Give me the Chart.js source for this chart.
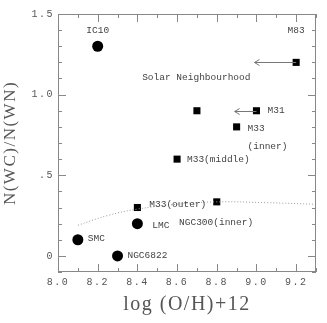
<!DOCTYPE html>
<html>
<head>
<meta charset="utf-8">
<script src="https://cdn.jsdelivr.net/npm/chart.js@4.4.1/dist/chart.umd.min.js"></script>
<style>
  body { margin: 0; background: #fff; }
  #wrap { width: 327px; height: 323px; }
</style>
</head>
<body>
<div id="wrap"><canvas id="wrChart" width="327" height="323"></canvas></div>
<script>
// galaxies plotted as filled circles
const circleNames = ["IC10", "SMC", "NGC6822", "LMC"];
const circleX = [8.2, 8.1, 8.3, 8.4];
const circleY = [1.3, 0.1, 0.0, 0.2];

// galaxies / regions plotted as filled squares
const squareNames = ["M83", "M31", "Solar Neighbourhood", "M33(inner)", "M33(middle)", "M33(outer)", "NGC300(inner)"];
const squareX = [9.2, 9.0, 8.7, 8.9, 8.6, 8.4, 8.8];
const squareY = [1.2, 0.9, 0.9, 0.8, 0.6, 0.3, 0.335];

// upper-limit arrows (pointing to lower metallicity)
const arrowFromX = [9.2, 9.0];
const arrowToX = [8.99, 8.89];
const arrowY = [1.2, 0.9];

// dotted model curve
const curveX = [8.1, 8.25, 8.4, 8.6, 8.8, 9.05, 9.3];
const curveY = [0.19, 0.25, 0.29, 0.32, 0.335, 0.33, 0.32];

// text labels next to points (data coords of the text anchor)
const labelText = ["IC10", "M83", "Solar Neighbourhood", "M31", "M33", "(inner)", "M33(middle)", "M33(outer)", "NGC300(inner)", "LMC", "SMC", "NGC6822"];
const labelX = [8.2, 9.2, 8.424, 9.056, 8.955, 8.955, 8.65, 8.46, 8.61, 8.475, 8.15, 8.35];
const labelY = [1.40, 1.40, 1.105, 0.9, 0.79, 0.68, 0.60, 0.32, 0.205, 0.19, 0.105, 0.0];

// axis tick labels
const xTickValues = [8.0, 8.2, 8.4, 8.6, 8.8, 9.0, 9.2];
const xTickLabels = ["8.0", "8.2", "8.4", "8.6", "8.8", "9.0", "9.2"];
const yTickValues = [0, 0.5, 1.0, 1.5];
const yTickLabels = ["0", ".5", "1.0", "1.5"];

const toPoints = (xs, ys) => xs.map((x, i) => ({ x: x, y: ys[i] }));

const framePlugin = {
  id: "frame",
  beforeDraw(chart) {
    chart.ctx.letterSpacing = "1.5px";
  },
  afterDraw(chart) {
    const ctx = chart.ctx;
    const xs = chart.scales.x;
    const ys = chart.scales.y;
    const a = chart.chartArea;
    ctx.save();
    ctx.letterSpacing = "0px";
    ctx.strokeStyle = "#888";
    ctx.lineWidth = 1;
    ctx.strokeRect(a.left + 0.5, a.top + 0.5, a.right - a.left - 1, a.bottom - a.top - 1);

    // inward ticks on all four sides
    ctx.beginPath();
    for (let i = 0; i <= 13; i++) {
      const v = 8.0 + i * 0.1;
      const px = Math.round(xs.getPixelForValue(v)) + 0.5;
      const len = i % 2 === 0 ? 8 : 4;
      ctx.moveTo(px, a.bottom); ctx.lineTo(px, a.bottom - len);
      ctx.moveTo(px, a.top); ctx.lineTo(px, a.top + len);
    }
    for (let i = -1; i <= 15; i++) {
      const v = i * 0.1;
      const py = Math.round(ys.getPixelForValue(v)) + 0.5;
      const len = i % 5 === 0 ? 8 : 4;
      ctx.moveTo(a.left, py); ctx.lineTo(a.left + len, py);
      ctx.moveTo(a.right, py); ctx.lineTo(a.right - len, py);
    }
    ctx.stroke();

    // arrows
    ctx.strokeStyle = "#777";
    ctx.beginPath();
    for (let i = 0; i < arrowY.length; i++) {
      const x0 = xs.getPixelForValue(arrowFromX[i]);
      const x1 = xs.getPixelForValue(arrowToX[i]);
      const y = Math.round(ys.getPixelForValue(arrowY[i])) + 0.5;
      ctx.moveTo(x0, y); ctx.lineTo(x1, y);
      ctx.moveTo(x1 + 5, y - 3); ctx.lineTo(x1, y); ctx.lineTo(x1 + 5, y + 3);
    }
    ctx.stroke();

    // point labels
    ctx.fillStyle = "#444";
    ctx.font = "9.5px 'Liberation Mono'";
    ctx.textBaseline = "middle";
    for (let i = 0; i < labelText.length; i++) {
      const centered = labelText[i] === "IC10" || labelText[i] === "M83";
      ctx.textAlign = centered ? "center" : "left";
      ctx.fillText(labelText[i], xs.getPixelForValue(labelX[i]), ys.getPixelForValue(labelY[i]));
    }
    ctx.restore();
  }
};

new Chart(document.getElementById("wrChart"), {
  type: "scatter",
  data: {
    datasets: [
      {
        type: "line",
        data: toPoints(curveX, curveY),
        borderColor: "#999",
        borderWidth: 1,
        borderDash: [1, 2],
        pointRadius: 0,
        tension: 0.4,
        fill: false,
      },
      {
        label: "circles",
        data: toPoints(circleX, circleY),
        pointStyle: "circle",
        pointRadius: 5.5,
        backgroundColor: "#000",
        borderColor: "#000",
        borderWidth: 0,
      },
      {
        label: "squares",
        data: toPoints(squareX, squareY),
        pointStyle: "rect",
        pointRadius: 5,
        backgroundColor: "#000",
        borderColor: "#000",
        borderWidth: 0,
      },
    ],
  },
  options: {
    responsive: false,
    animation: false,
    layout: { padding: { top: 14, right: 11, left: 0, bottom: 0 } },
    plugins: { legend: { display: false }, tooltip: { enabled: false } },
    scales: {
      x: {
        type: "linear",
        min: 8.0,
        max: 9.3,
        grid: { display: false, drawTicks: false },
        border: { display: false },
        afterBuildTicks: (s) => { s.ticks = xTickValues.map((v) => ({ value: v })); },
        afterFit: (s) => { s.height = 51; },
        ticks: {
          color: "#555",
          padding: 4,
          maxRotation: 0,
          font: { family: "Liberation Mono", size: 10 },
          callback: (v) => xTickLabels[xTickValues.indexOf(Math.round(v * 10) / 10)],
        },
        title: {
          display: true,
          text: "log (O/H)+12",
          color: "#555",
          font: { family: "Liberation Serif", size: 20 },
          padding: { top: 0, bottom: 6 },
        },
      },
      y: {
        type: "linear",
        min: -0.1,
        max: 1.5,
        grid: { display: false, drawTicks: false },
        border: { display: false },
        afterBuildTicks: (s) => { s.ticks = yTickValues.map((v) => ({ value: v })); },
        afterFit: (s) => { s.width = 58; },
        ticks: {
          color: "#555",
          padding: 4,
          font: { family: "Liberation Mono", size: 10 },
          callback: (v) => yTickLabels[yTickValues.indexOf(Math.round(v * 10) / 10)],
        },
        title: {
          display: true,
          text: "N(WC)/N(WN)",
          color: "#555",
          font: { family: "Liberation Serif", size: 17 },
          padding: { top: 0, bottom: 0 },
        },
      },
    },
  },
  plugins: [framePlugin],
});
</script>
</body>
</html>
